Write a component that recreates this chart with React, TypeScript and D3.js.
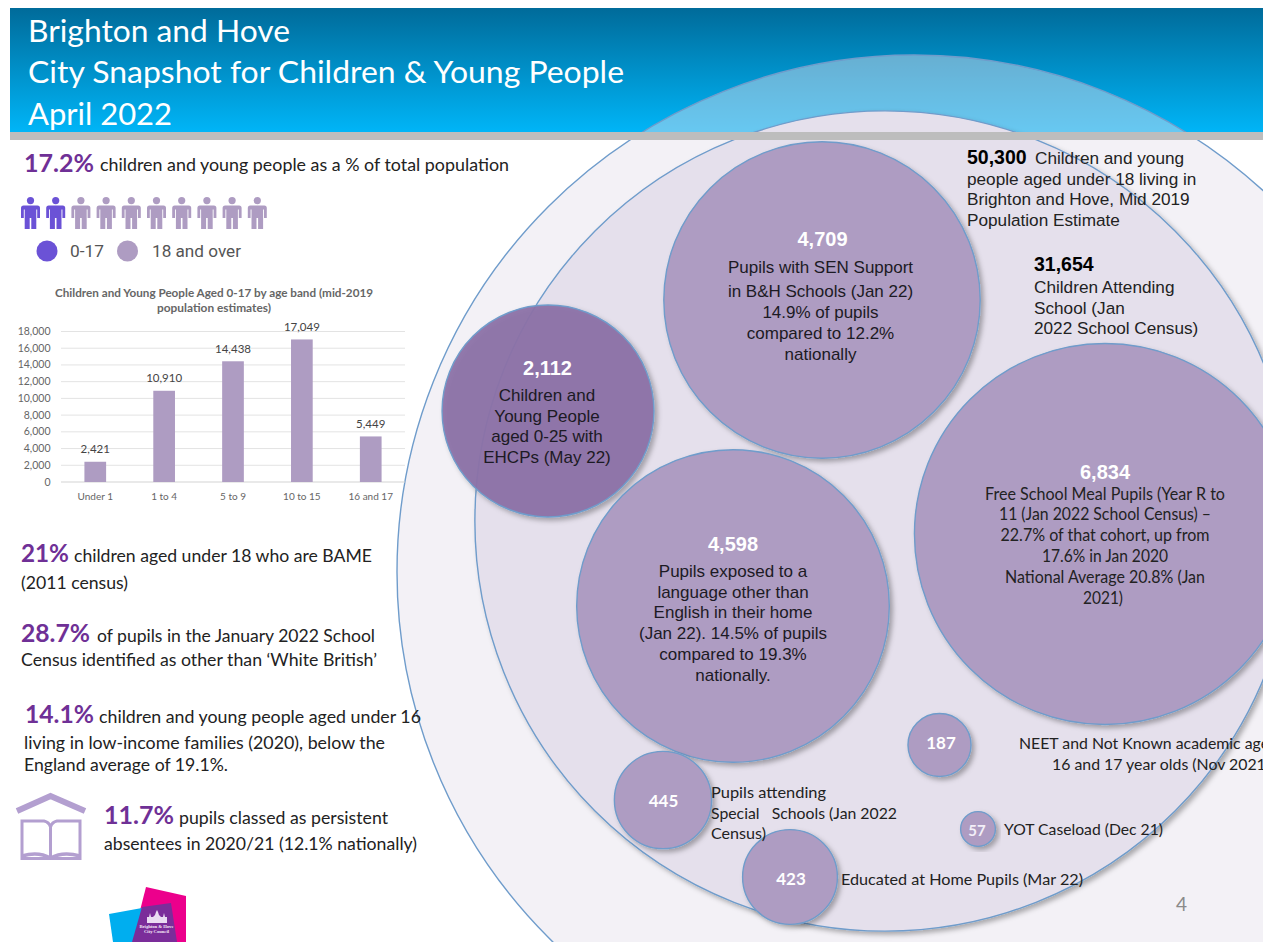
import React, { useMemo } from "react";
import * as d3 from "d3";

const W = 1268;
const H = 942;

// Age-band bar chart
const ageBands = ["Under 1", "1 to 4", "5 to 9", "10 to 15", "16 and 17"];
const ageCounts = [2421, 10910, 14438, 17049, 5449];
const yTicks = [0, 2000, 4000, 6000, 8000, 10000, 12000, 14000, 16000, 18000];

// Nested bubbles: value and label
const bubbleNames = ["all", "school", "sen", "ehcp", "lang", "fsm", "neet", "special", "home", "yot"];
const bubbleValues = [50300, 31654, 4709, 2112, 4598, 6834, 187, 445, 423, 57];

// Share of people pictogram
const peopleGroups = ["child", "child", "adult", "adult", "adult", "adult", "adult", "adult", "adult", "adult"];

const PURPLE = "#ae9cc2";
const DARK = "#6f3096";
const CANVAS_RIGHT = 1263;
const SANS = "Liberation Sans";

// Where each bubble sits on the slide
const bubbleCentres: Record<string, [number, number]> = {
  all: [914, 572],
  school: [885, 521],
  sen: [822, 300],
  ehcp: [548, 411],
  lang: [733, 606],
  fsm: [1105, 534],
  neet: [939.5, 745],
  special: [663, 800],
  home: [790, 877],
  yot: [978, 829],
};

function Run({ x, y, size, w, fill = "#222", weight = 400, family = "Lato", anchor = "start", children }: any) {
  return (
    <text
      x={x}
      y={y}
      fontFamily={family}
      fontSize={size}
      fontWeight={weight}
      fill={fill}
      textAnchor={anchor}
      textLength={w}
      lengthAdjust={w ? "spacingAndGlyphs" : undefined}
      style={{ whiteSpace: "pre" }}
    >
      {children}
    </text>
  );
}

function Person({ x, y, fill }: { x: number; y: number; fill: string }) {
  return (
    <g transform={`translate(${x},${y})`} fill={fill}>
      <circle cx={0} cy={3.6} r={3.6} />
      <path d="M-9.5,11 Q-9.5,8.5 -7,8.5 L7,8.5 Q9.5,8.5 9.5,11 L9.5,21 L6.7,21 L6.7,12.5 L5.8,12.5 L5.8,32 L0.8,32 L0.8,21 L-0.8,21 L-0.8,32 L-5.8,32 L-5.8,12.5 L-6.7,12.5 L-6.7,21 L-9.5,21 Z" />
    </g>
  );
}

function AgeChart() {
  const x = d3.scaleBand().domain(ageBands).range([61, 405]).paddingInner(0.685).paddingOuter(0.34);
  const y = d3.scaleLinear().domain([0, 18000]).range([482, 331.5]);
  const f = d3.format(",");
  return (
    <g>
      <Run x={55} y={297} size={10.5} weight={700} fill="#666" w={318}>
        Children and Young People Aged 0-17 by age band (mid-2019
      </Run>
      <Run x={157} y={312} size={10.5} weight={700} fill="#666" w={114}>
        population estimates)
      </Run>
      {yTicks.map((t) => (
        <g key={t}>
          <line x1={61} x2={405} y1={y(t)} y2={y(t)} stroke={t === 0 ? "#d3d3d3" : "#e3e3e3"} strokeWidth={1} />
          <Run x={50.5} y={y(t) + 3.5} size={10.5} fill="#666" anchor="end">
            {f(t)}
          </Run>
        </g>
      ))}
      {ageBands.map((b, i) => (
        <g key={b}>
          <rect
            x={x(b)!}
            y={y(ageCounts[i])}
            width={x.bandwidth()}
            height={y(0) - y(ageCounts[i])}
            fill={PURPLE}
          />
          <Run x={x(b)! + x.bandwidth() / 2} y={y(ageCounts[i]) - 8.5} size={11.5} fill="#444" anchor="middle">
            {f(ageCounts[i])}
          </Run>
          <Run x={x(b)! + x.bandwidth() / 2} y={500} size={10} fill="#666" anchor="middle">
            {b}
          </Run>
        </g>
      ))}
    </g>
  );
}

function Bubbles() {
  const r = useMemo(() => d3.scaleSqrt().domain([0, 50300]).range([0, 517]), []);
  const order = bubbleNames.map((name, i) => ({ name, value: bubbleValues[i] }));
  return (
    <g clipPath="url(#slide)">
      {order.map((b) => {
        const [cx, cy] = bubbleCentres[b.name];
        const fill =
          b.name === "all"
            ? "rgba(229,224,236,0.45)"
            : b.name === "school"
            ? "#e5e0ec"
            : b.name === "ehcp"
            ? "rgba(140,114,167,0.94)"
            : PURPLE;
        return (
          <circle
            key={b.name}
            cx={cx}
            cy={cy}
            r={r(b.value)}
            fill={fill}
            stroke="#6f9ccb"
            strokeWidth={1.4}
            filter={b.name === "all" ? undefined : "url(#soft)"}
          />
        );
      })}
    </g>
  );
}

function Lines({ x, ys, lines, size = 17, fill = "#1c1a24" }: any) {
  return (
    <g>
      {lines.map((l: string, i: number) => (
        <Run key={i} x={x} y={ys[i]} size={size} fill={fill} family={SANS} anchor="middle">
          {l}
        </Run>
      ))}
    </g>
  );
}

export default function App() {
  return (
    <svg
      width={W}
      height={H}
      viewBox={`0 0 ${W} ${H}`}
      style={{ position: "absolute", left: 0, top: 0, display: "block" }}
    >
      <defs>
        <linearGradient id="band" x1="0" y1="0" x2="0" y2="1">
          <stop offset="0" stopColor="#006b9a" />
          <stop offset="1" stopColor="#00b5f7" />
        </linearGradient>
        <clipPath id="slide">
          <rect x={0} y={8} width={CANVAS_RIGHT} height={H} />
        </clipPath>
        <filter id="soft" x="-10%" y="-10%" width="125%" height="125%">
          <feDropShadow dx={3} dy={3} stdDeviation={2.8} floodColor="#000" floodOpacity={0.3} />
        </filter>
      </defs>

      <rect x={0} y={0} width={W} height={H} fill="#fff" />
      <rect x={10} y={8} width={CANVAS_RIGHT - 10} height={124} fill="url(#band)" />

      <Bubbles />

      <rect x={10} y={132} width={CANVAS_RIGHT - 10} height={8} fill="#bdbdbd" />

      {/* Slide heading */}
      <Run x={28} y={41.5} size={31} fill="#fff" w={262}>Brighton and Hove</Run>
      <Run x={28} y={83} size={31} fill="#fff" w={596}>City Snapshot for Children &amp; Young People</Run>
      <Run x={28} y={124.5} size={31} fill="#fff" w={144}>April 2022</Run>

      {/* Left-hand key figures */}
      <Run x={24} y={171.5} size={25} weight={700} fill={DARK} w={70}>17.2%</Run>
      <Run x={100} y={171} size={17.5} w={409}>children and young people as a % of total population</Run>

      {peopleGroups.map((g, i) => (
        <Person key={i} x={30.5 + i * 25.2} y={197} fill={g === "child" ? "#6b52d6" : PURPLE} />
      ))}
      <circle cx={47} cy={251} r={10.5} fill="#6b52d6" />
      <Run x={70} y={257} size={16} fill="#555" family="Roboto" w={34}>0-17</Run>
      <circle cx={127.5} cy={251} r={10.5} fill={PURPLE} />
      <Run x={152} y={257} size={16} fill="#555" family="Roboto" w={89}>18 and over</Run>

      <AgeChart />

      <Run x={21} y={562} size={25} weight={700} fill={DARK} w={48}>21%</Run>
      <Run x={74} y={562} size={17.5} w={298}>children aged under 18 who are BAME</Run>
      <Run x={21} y={589} size={17.5} w={107}>(2011 census)</Run>

      <Run x={21} y={642} size={25} weight={700} fill={DARK} w={69}>28.7%</Run>
      <Run x={97} y={642} size={17.5} w={278}>of pupils in the January 2022 School</Run>
      <Run x={21} y={666} size={17.5} w={356}>Census identified as other than ‘White British’</Run>

      <Run x={25} y={723} size={25} weight={700} fill={DARK} w={69}>14.1%</Run>
      <Run x={99} y={723} size={17.5} w={322}>children and young people aged under 16</Run>
      <Run x={24} y={749} size={17.5} w={361}>living in low-income families (2020), below the</Run>
      <Run x={24} y={771} size={17.5} w={204}>England average of 19.1%.</Run>

      {/* Book under a roof */}
      <g fill="none" stroke="#b39fd0">
        <path d="M17,811 L50.5,796 L85,811" strokeWidth={6} />
        <path d="M22,821 H44 Q49,822 50.5,827 Q52,822 57,821 H80 V858.5 H22 Z" strokeWidth={3} />
        <path d="M50.5,827 V860" strokeWidth={3} />
        <path d="M22,856 Q38,851 50.5,858 Q63,851 80,856" strokeWidth={3.5} />
      </g>
      <Run x={104} y={824} size={25} weight={700} fill={DARK} w={70}>11.7%</Run>
      <Run x={179} y={824} size={17.5} w={209}>pupils classed as persistent</Run>
      <Run x={104} y={850} size={17.5} w={313}>absentees in 2020/21 (12.1% nationally)</Run>

      {/* Council logo */}
      <polygon points="146,887 186,896 186,942 132,942" fill="#ec008c" />
      <polygon points="109,914 142,908 134,942 113,942" fill="#00aeef" />
      <polygon points="142,907 171,903 177,942 132,942" fill="#7b2d9a" />
      <path
        d="M147,923 L147,917 L149,917 L150,913 L151,917 L153,917 L155,915 L156,912 L157,910 L158,912 L159,915 L161,917 L163,917 L164,913 L165,917 L167,917 L167,923 Z"
        fill="#eadcf2"
      />
      <text x={156.5} y={928} textAnchor="middle" fontSize={4.6} fontWeight={700} fontFamily="Liberation Serif" fill="#f4e9f8">Brighton &amp; Hove</text>
      <text x={156.5} y={933} textAnchor="middle" fontSize={4.6} fontWeight={700} fontFamily="Liberation Serif" fill="#f4e9f8">City Council</text>

      {/* Outer bubble captions */}
      <Run x={967} y={164} size={19.5} weight={700} fill="#000" family={SANS}>50,300</Run>
      <Run x={1035} y={164} size={17.2} family={SANS}>Children and young</Run>
      <Run x={967} y={184.5} size={17.2} family={SANS}>people aged under 18 living in</Run>
      <Run x={967} y={205} size={17.2} family={SANS}>Brighton and Hove, Mid 2019</Run>
      <Run x={967} y={226} size={17.2} family={SANS}>Population Estimate</Run>

      <Run x={1034} y={271} size={19.5} weight={700} fill="#000" family={SANS}>31,654</Run>
      <Run x={1034} y={293} size={17.2} family={SANS}>Children Attending</Run>
      <Run x={1034} y={313.5} size={17.2} family={SANS}>School (Jan</Run>
      <Run x={1034} y={334} size={17.2} family={SANS}>2022 School Census)</Run>

      {/* Captions inside the bubbles */}
      <Run x={822.5} y={246} size={20} weight={700} fill="#fff" family={SANS} anchor="middle">4,709</Run>
      <Lines x={820.5} ys={[273, 296.5, 317.5, 338.5, 359.5]}
        lines={["Pupils with SEN Support", "in B&H Schools (Jan 22)", "14.9% of pupils", "compared to 12.2%", "nationally"]} />

      <Run x={547.5} y={375} size={20} weight={700} fill="#fff" family={SANS} anchor="middle">2,112</Run>
      <Lines x={547} ys={[401, 422, 442, 463]}
        lines={["Children and", "Young People", "aged 0-25 with", "EHCPs (May 22)"]} />

      <Run x={733} y={551} size={20} weight={700} fill="#fff" family={SANS} anchor="middle">4,598</Run>
      <Lines x={733} ys={[577, 597.5, 618, 639, 660, 681]}
        lines={["Pupils exposed to a", "language other than", "English in their home", "(Jan 22). 14.5% of pupils", "compared to 19.3%", "nationally."]} />

      <Run x={1105} y={479} size={20} weight={700} fill="#fff" family={SANS} anchor="middle">6,834</Run>
      <g fill="#222">
        <Run x={1105} y={499.5} size={16.5} anchor="middle" w={240}>Free School Meal Pupils (Year R to</Run>
        <Run x={1105} y={520} size={16.5} anchor="middle" w={212}>11 (Jan 2022 School Census) –</Run>
        <Run x={1105} y={541} size={16.5} anchor="middle" w={209}>22.7% of that cohort, up from</Run>
        <Run x={1105} y={562} size={16.5} anchor="middle" w={126}>17.6% in Jan 2020</Run>
        <Run x={1105} y={582.5} size={16.5} anchor="middle" w={200}>National Average 20.8% (Jan</Run>
        <Run x={1103} y={603.5} size={16.5} anchor="middle" w={40}>2021)</Run>
      </g>

      <Run x={941} y={749} size={17} weight={700} fill="#fff" anchor="middle">187</Run>
      <Run x={663.5} y={807} size={17} weight={700} fill="#fff" anchor="middle">445</Run>
      <Run x={791} y={885} size={17} weight={700} fill="#fff" anchor="middle">423</Run>
      <Run x={977} y={836} size={15} weight={700} fill="#f3eff8" anchor="middle">57</Run>

      <g clipPath="url(#slide)">
        <Run x={1019} y={749} size={16} w={250}>NEET and Not Known academic age</Run>
        <Run x={1052} y={770} size={16} w={218}>16 and 17 year olds (Nov 2021)</Run>
      </g>
      <Run x={711} y={798} size={16} w={115}>Pupils attending</Run>
      <Run x={711} y={819} size={16} w={186}>Special   Schools (Jan 2022</Run>
      <Run x={711} y={839} size={16} w={55}>Census)</Run>
      <Run x={1004} y={835} size={16} w={159}>YOT Caseload (Dec 21)</Run>
      <Run x={841} y={885} size={16} w={242}>Educated at Home Pupils (Mar 22)</Run>

      <Run x={1176} y={911} size={19} fill="#8a8a8a">4</Run>
    </svg>
  );
}
